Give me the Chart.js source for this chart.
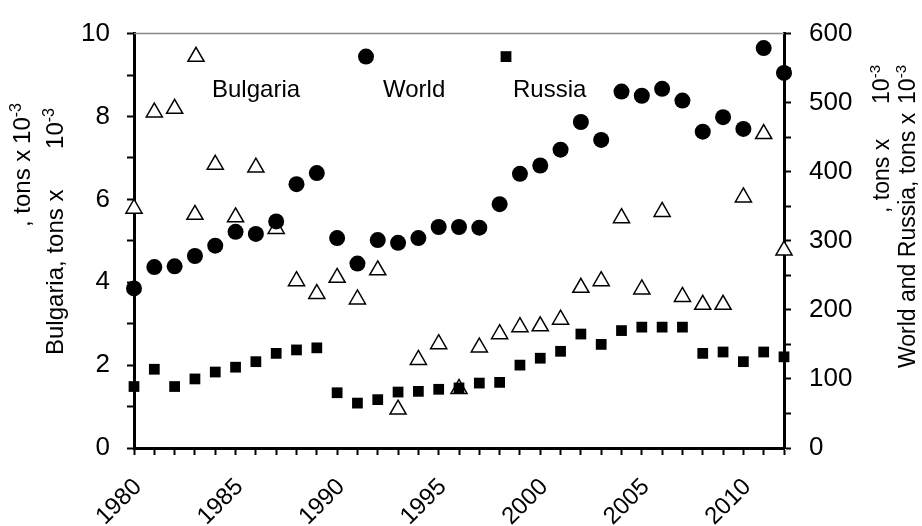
<!DOCTYPE html>
<html>
<head>
<meta charset="utf-8">
<script src="https://cdn.jsdelivr.net/npm/chart.js@4.4.0/dist/chart.umd.min.js"></script>
<style>
  body { margin: 0; background: #fff; }
  #wrap { width: 922px; height: 526px; position: relative; }
</style>
</head>
<body>
<div id="wrap"><canvas id="chart"></canvas></div>
<script>
const years = [1980, 1981, 1982, 1983, 1984, 1985, 1986, 1987, 1988, 1989,
               1990, 1991, 1992, 1993, 1994, 1995, 1996, 1997, 1998, 1999,
               2000, 2001, 2002, 2003, 2004, 2005, 2006, 2007, 2008, 2009,
               2010, 2011, 2012];

// Bulgaria, tons x 10^-3 (left axis)
const bulgaria = [5.78, 8.10, 8.19, 5.63, 6.84, 5.57, 6.77, 5.29, 4.03, 3.72,
                  4.11, 3.59, 4.29, 0.93, 2.13, 2.51, 1.43, 2.43, 2.75, 2.92,
                  2.94, 3.10, 3.87, 4.03, 5.55, 3.83, 5.70, 3.65, 3.46, 3.46,
                  6.05, 7.58, 4.77];

// World and Russia, tons x 10^-3 (right axis)
const world = [231, 262, 263, 278, 293, 313, 310, 328, 382, 398,
               304, 267, 301, 297, 304, 320, 320, 319, 353, 397,
               409, 432, 472, 446, 516, 510, 520, 503, 458, 479,
               462, 579, 543];
const russia = [89, 114, 89, 100, 110, 117, 125, 137, 142, 145,
                80, 65, 70, 81, 82, 85, 87, 94, 95, 120,
                130, 140, 165, 150, 170, 175, 175, 175, 137, 139,
                125, 139, 132];

const xLabels = [1980, 1985, 1990, 1995, 2000, 2005, 2010];
const leftLabels = [0, 2, 4, 6, 8, 10];
const rightLabels = [0, 100, 200, 300, 400, 500, 600];

const FONT = '"Liberation Sans", Arial, sans-serif';

function pts(vals) {
  return vals.map((v, i) => ({ x: years[i], y: v }));
}

// one rotated title line (bottom to top): the words start at y0,
// "10" with its raised exponent ends at y1
function upText(ctx, x, y0, y1, words, size) {
  const sup = Math.round(size * 0.65);
  ctx.save();
  ctx.translate(x, 0);
  ctx.rotate(-Math.PI / 2);
  ctx.fillStyle = '#000';
  ctx.textBaseline = 'alphabetic';
  ctx.textAlign = 'left';
  ctx.font = size + 'px ' + FONT;
  ctx.fillText(words, -y0, 0);
  ctx.font = sup + 'px ' + FONT;
  const sw = ctx.measureText('-3').width;
  ctx.fillText('-3', -y1 - sw, -9);
  ctx.font = size + 'px ' + FONT;
  ctx.textAlign = 'right';
  ctx.fillText('10', -y1 - sw, 0);
  ctx.restore();
}

const extras = {
  id: 'extras',
  beforeDatasetsDraw(chart) {
    const { ctx, chartArea: a } = chart;
    ctx.save();
    ctx.strokeStyle = '#888';
    ctx.lineWidth = 1.5;
    ctx.beginPath();
    ctx.moveTo(a.left, a.top);
    ctx.lineTo(a.right, a.top);
    ctx.stroke();
    ctx.restore();
  },
  afterDraw(chart) {
    const { ctx, chartArea: a } = chart;
    // axis titles
    upText(ctx, 30, 227, 103, ', tons x', 24);
    upText(ctx, 63, 355, 108, 'Bulgaria, tons x', 24);
    upText(ctx, 889, 213, 65, ', tons x', 23);
    upText(ctx, 915, 368, 65, 'World and Russia, tons x', 23);

    // legend
    const my = a.top + 23;
    ctx.save();
    // triangle
    const tx = a.left + 62, r = 9.3;
    ctx.beginPath();
    ctx.moveTo(tx, my - r);
    ctx.lineTo(tx + r * Math.sin(2 * Math.PI / 3), my + r / 2);
    ctx.lineTo(tx - r * Math.sin(2 * Math.PI / 3), my + r / 2);
    ctx.closePath();
    ctx.fillStyle = '#fff';
    ctx.fill();
    ctx.strokeStyle = '#000';
    ctx.lineWidth = 1.5;
    ctx.stroke();
    // circle
    ctx.fillStyle = '#000';
    ctx.beginPath();
    ctx.arc(a.left + 232, my, 8, 0, 2 * Math.PI);
    ctx.fill();
    // square
    ctx.fillRect(a.left + 372 - 5.4, my - 5.4, 10.8, 10.8);
    ctx.font = '24px ' + FONT;
    ctx.textBaseline = 'alphabetic';
    ctx.textAlign = 'left';
    ctx.fillText('Bulgaria', a.left + 78, a.top + 63);
    ctx.fillText('World', a.left + 249, a.top + 63);
    ctx.fillText('Russia', a.left + 379, a.top + 63);
    ctx.restore();
  }
};

new Chart(document.getElementById('chart'), {
  type: 'scatter',
  data: {
    datasets: [
      {
        label: 'World',
        data: pts(world),
        yAxisID: 'y2',
        pointStyle: 'circle',
        pointRadius: 8,
        backgroundColor: '#000',
        borderColor: '#000',
        borderWidth: 0,
        clip: false
      },
      {
        label: 'Russia',
        data: pts(russia),
        yAxisID: 'y2',
        pointStyle: 'rect',
        pointRadius: 7.6,
        backgroundColor: '#000',
        borderColor: '#000',
        borderWidth: 0,
        clip: false
      },
      {
        label: 'Bulgaria',
        data: pts(bulgaria),
        yAxisID: 'y',
        pointStyle: 'triangle',
        pointRadius: 9.3,
        backgroundColor: '#fff',
        borderColor: '#000',
        borderWidth: 1.5,
        clip: false
      }
    ]
  },
  options: {
    responsive: true,
    maintainAspectRatio: false,
    animation: false,
    events: [],
    layout: { padding: { top: 24, left: 0, right: 0, bottom: 0 } },
    plugins: { legend: { display: false }, tooltip: { enabled: false } },
    scales: {
      x: {
        type: 'linear',
        min: 1980,
        max: 2012,
        afterFit(s) { s.height = 78; },
        border: { color: '#000', width: 3 },
        grid: { drawOnChartArea: false, tickLength: 7, tickWidth: 2, tickColor: '#000' },
        ticks: {
          stepSize: 1,
          autoSkip: false,
          maxRotation: 45,
          minRotation: 45,
          padding: 18,
          labelOffset: 4,
          color: '#000',
          font: { family: FONT, size: 24 },
          callback: v => xLabels.includes(v) ? String(v) : ''
        }
      },
      y: {
        position: 'left',
        min: 0,
        max: 10,
        afterFit(s) { s.width = 134; },
        border: { color: '#000', width: 3 },
        grid: { drawOnChartArea: false, tickLength: 7, tickWidth: 2, tickColor: '#000' },
        ticks: {
          stepSize: 1,
          autoSkip: false,
          padding: 17,
          color: '#000',
          font: { family: FONT, size: 26 },
          callback: v => leftLabels.includes(v) ? String(v) : ''
        }
      },
      y2: {
        position: 'right',
        min: 0,
        max: 600,
        afterFit(s) { s.width = 138; },
        border: { color: '#000', width: 3 },
        grid: { drawOnChartArea: false, tickLength: 7, tickWidth: 2, tickColor: '#000' },
        ticks: {
          stepSize: 50,
          autoSkip: false,
          padding: 18,
          color: '#000',
          font: { family: FONT, size: 26 },
          callback: v => rightLabels.includes(v) ? String(v) : ''
        }
      }
    }
  },
  plugins: [extras]
});
</script>
</body>
</html>
